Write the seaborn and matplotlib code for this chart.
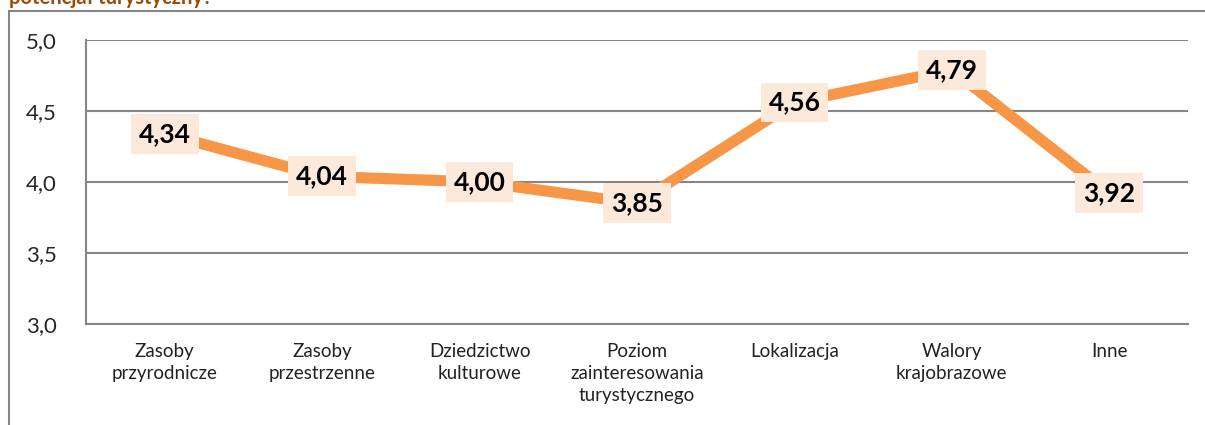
import matplotlib.pyplot as plt
import matplotlib.patches as mpatches
import seaborn as sns
import pandas as pd

categories = ["Zasoby\nprzyrodnicze", "Zasoby\nprzestrzenne", "Dziedzictwo\nkulturowe",
              "Poziom\nzainteresowania\nturystycznego", "Lokalizacja",
              "Walory\nkrajobrazowe", "Inne"]
values = [4.34, 4.04, 4.00, 3.85, 4.56, 4.79, 3.92]
y_ticks = [3.0, 3.5, 4.0, 4.5, 5.0]

sns.set_style("white")
plt.rcParams['font.family'] = ['Lato', 'DejaVu Sans']

df = pd.DataFrame({"pos": range(len(categories)), "val": values})

fig = plt.figure(figsize=(12.05, 4.25), dpi=100)
ax = fig.add_axes([86 / 1205, 101 / 425, 1102 / 1205, 284 / 425])

grid = "#868686"
for y in y_ticks:
    ax.axhline(y, color=grid, lw=1.5, zorder=0)

sns.lineplot(data=df, x="pos", y="val", ax=ax, color="#F79646", lw=8,
             solid_capstyle="butt", zorder=2)

for i, v in enumerate(values):
    ax.text(i, v, f"{v:.2f}".replace(".", ","), ha="center", va="center",
            fontsize=19, fontweight="bold", color="black", zorder=3,
            bbox=dict(boxstyle="square,pad=0.3", fc="#FDE9D9", ec="none"))

ax.set_xlim(-0.5, len(categories) - 0.5)
ax.set_ylim(3.0, 5.0)
ax.set_yticks(y_ticks)
ax.set_yticklabels([f"{t:.1f}".replace(".", ",") for t in y_ticks], fontsize=16)
ax.set_xticks([i - 0.5 for i in range(len(categories) + 1)])
ax.set_xticklabels([])
ax.set_xticks(range(len(categories)), minor=True)
ax.set_xticklabels(categories, minor=True, fontsize=13.5, color="#222222",
                   linespacing=1.35)
ax.tick_params(axis="x", which="major", length=5, color=grid, width=1.5, direction="out")
ax.tick_params(axis="x", which="minor", length=0, pad=14)
ax.tick_params(axis="y", length=9, color=grid, width=1.5, direction="out", pad=12)
ax.set_xlabel("")
ax.set_ylabel("")
for s in ["top", "right"]:
    ax.spines[s].set_visible(False)
for s in ["left", "bottom"]:
    ax.spines[s].set_color(grid)
    ax.spines[s].set_linewidth(1.5)

# outer chart border
fig.patches.append(mpatches.Rectangle((9 / 1205, -0.1), 1.1, 1 - 11 / 425 + 0.1,
                                      transform=fig.transFigure, fill=False,
                                      ec=grid, lw=1.5))

fig.text(9 / 1205, 1 + 2 / 425, "potencjał turystyczny?", ha="left", va="center",
         fontsize=14.5, fontweight="bold", color="#9C4A06")

fig.savefig("out.png", dpi=100)
